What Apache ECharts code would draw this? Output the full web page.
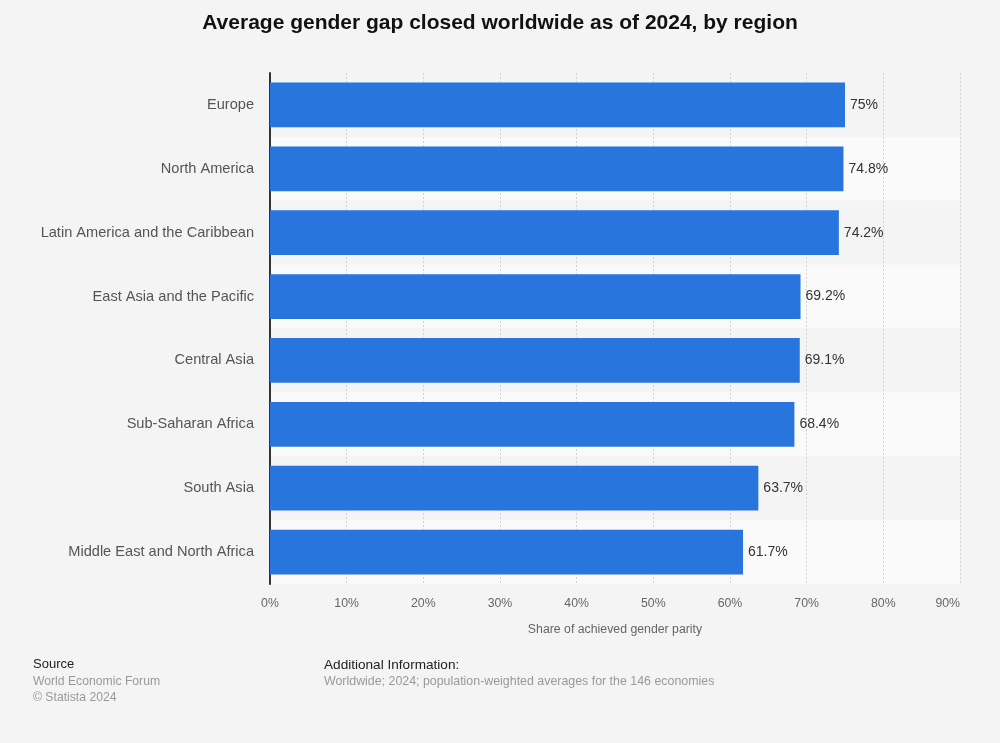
<!DOCTYPE html>
<html><head><meta charset="utf-8">
<script src="https://cdn.jsdelivr.net/npm/echarts@6/dist/echarts.min.js"></script>
<style>html,body{margin:0;padding:0;background:#f4f4f4;}#c{width:1000px;height:743px;}</style>
</head><body><div id="c"></div>
<script>
const categories = ["Europe","North America","Latin America and the Caribbean","East Asia and the Pacific","Central Asia","Sub-Saharan Africa","South Asia","Middle East and North Africa"];
const values = [75, 74.8, 74.2, 69.2, 69.1, 68.4, 63.7, 61.7];
const tickLabels = ["0%","10%","20%","30%","40%","50%","60%","70%","80%","90%"];

const chart = echarts.init(document.getElementById('c'), null, {renderer:'canvas'});
const font = 'Arial, "Liberation Sans", Helvetica, sans-serif';
chart.setOption({
  backgroundColor:'#f4f4f4',
  animation:false,
  title:{text:'Average gender gap closed worldwide as of 2024, by region', left:'center', top:8,
    textStyle:{fontFamily:font, fontSize:21, fontWeight:'bold', color:'#111'}},
  grid:{left:270, right:40, top:73, bottom:159, containLabel:false},
  xAxis:{type:'value', min:0, max:90, interval:10,
    name:'Share of achieved gender parity', nameLocation:'middle', nameGap:40,
    nameTextStyle:{fontFamily:font, fontSize:12.3, color:'#666'},
    axisLine:{show:false}, axisTick:{show:false},
    axisLabel:{margin:14, fontFamily:font, fontSize:12.3, color:'#666', alignMaxLabel:'right',
      formatter:(v)=>tickLabels[Math.round(v/10)]},
    splitLine:{show:true, lineStyle:{color:'#d2d2d2', type:[2,2], width:1}}},
  yAxis:{type:'category', data:categories, inverse:true,
    axisLine:{show:true, lineStyle:{color:'#333', width:2}}, axisTick:{show:false},
    axisLabel:{margin:16, fontFamily:font, fontSize:14.6, color:'#555'},
    splitArea:{show:true, areaStyle:{color:['#f4f4f4','#fafafa']}}},
  series:[{type:'bar', data:values, barCategoryGap:'30%',
    itemStyle:{color:'#2876dd'},
    label:{show:true, position:'right', distance:5, fontFamily:font, fontSize:14, color:'#333',
      formatter:(p)=>p.value+'%'}}],
  graphic:[
    {type:'text', left:33, top:658, style:{text:'Source', fontFamily:font, fontSize:13, fill:'#222'}},
    {type:'text', left:33, top:676, style:{text:'World Economic Forum', fontFamily:font, fontSize:12.2, fill:'#999'}},
    {type:'text', left:33, top:692, style:{text:'© Statista 2024', fontFamily:font, fontSize:12.2, fill:'#999'}},
    {type:'text', left:324, top:658, style:{text:'Additional Information:', fontFamily:font, fontSize:13.6, fill:'#222'}},
    {type:'text', left:324, top:676, style:{text:'Worldwide; 2024; population-weighted averages for the 146 economies', fontFamily:font, fontSize:12.4, fill:'#999'}}
  ]
});
</script></body></html>
